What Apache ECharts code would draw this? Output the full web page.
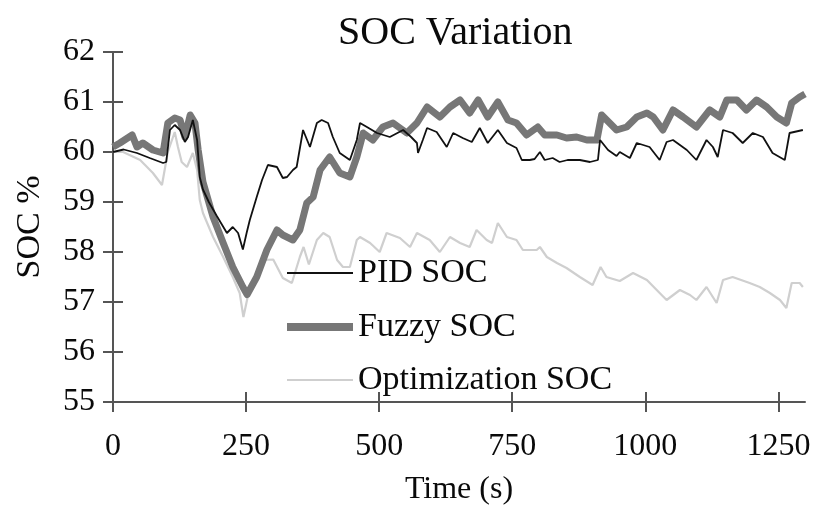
<!DOCTYPE html>
<html>
<head>
<meta charset="utf-8">
<script src="https://cdn.jsdelivr.net/npm/echarts@6/dist/echarts.min.js"></script>
<style>
  html, body { margin: 0; padding: 0; background: #fff; }
  #chart { width: 820px; height: 513px; }
</style>
</head>
<body>
<div id="chart"></div>
<script>
// Time stamps (s) and state of charge (%) for each control strategy
const pidTime = [0, 20, 45, 69, 94, 100, 107, 116, 126, 135, 141, 150, 158, 163, 169, 180, 195, 214, 225, 235, 244, 251, 257, 270, 280, 291, 308, 319, 327, 338, 345, 357, 370, 383, 392, 404, 413, 426, 445, 458, 464, 477, 496, 520, 545, 560, 571, 573, 582, 590, 608, 627, 639, 657, 674, 689, 704, 723, 740, 758, 768, 783, 792, 802, 811, 826, 839, 854, 877, 896, 911, 915, 930, 946, 952, 971, 984, 1008, 1027, 1040, 1052, 1078, 1096, 1115, 1127, 1136, 1146, 1164, 1183, 1202, 1221, 1239, 1262, 1271, 1296];
const pidSoc = [60.0, 60.05, 59.98, 59.88, 59.78, 59.8, 60.44, 60.54, 60.44, 60.2, 60.3, 60.64, 60.24, 59.5, 59.25, 59.0, 58.72, 58.38, 58.5, 58.38, 58.05, 58.38, 58.64, 59.1, 59.44, 59.74, 59.7, 59.48, 59.5, 59.64, 59.7, 60.44, 60.1, 60.58, 60.64, 60.58, 60.3, 59.98, 59.84, 60.24, 60.58, 60.5, 60.38, 60.3, 60.44, 60.3, 60.18, 59.98, 60.24, 60.48, 60.4, 60.1, 60.38, 60.28, 60.2, 60.48, 60.18, 60.44, 60.18, 60.08, 59.84, 59.84, 59.86, 60.0, 59.84, 59.88, 59.8, 59.84, 59.84, 59.8, 59.84, 60.24, 60.04, 59.92, 60.0, 59.88, 60.18, 60.1, 59.84, 60.2, 60.24, 60.04, 59.84, 60.24, 60.1, 59.9, 60.44, 60.38, 60.18, 60.38, 60.3, 59.98, 59.84, 60.38, 60.44];

const fuzzyTime = [0, 13, 36, 45, 56, 75, 94, 103, 116, 126, 135, 145, 154, 160, 169, 188, 207, 225, 244, 252, 270, 289, 308, 319, 338, 351, 364, 376, 389, 407, 426, 445, 458, 470, 488, 507, 526, 552, 571, 590, 614, 633, 652, 670, 686, 704, 723, 742, 758, 777, 798, 811, 834, 852, 871, 890, 909, 918, 933, 946, 965, 984, 1003, 1015, 1033, 1052, 1071, 1096, 1121, 1140, 1153, 1172, 1190, 1209, 1228, 1247, 1265, 1275, 1290, 1300];
const fuzzySoc = [60.1, 60.18, 60.34, 60.1, 60.18, 60.04, 59.98, 60.58, 60.68, 60.64, 60.3, 60.74, 60.58, 60.04, 59.4, 58.7, 58.18, 57.7, 57.3, 57.15, 57.5, 58.04, 58.44, 58.34, 58.24, 58.44, 58.98, 59.1, 59.64, 59.9, 59.58, 59.5, 59.9, 60.38, 60.24, 60.5, 60.58, 60.38, 60.58, 60.9, 60.7, 60.9, 61.04, 60.78, 61.04, 60.7, 61.0, 60.64, 60.58, 60.34, 60.5, 60.34, 60.34, 60.28, 60.3, 60.24, 60.24, 60.74, 60.58, 60.44, 60.5, 60.7, 60.78, 60.7, 60.44, 60.84, 60.7, 60.5, 60.84, 60.7, 61.04, 61.04, 60.84, 61.04, 60.9, 60.7, 60.58, 60.98, 61.1, 61.16];

const optTime = [0, 19, 51, 75, 92, 103, 116, 122, 129, 139, 150, 158, 163, 169, 188, 207, 225, 238, 245, 257, 282, 301, 319, 336, 351, 358, 368, 383, 395, 407, 421, 432, 445, 458, 464, 483, 501, 514, 539, 558, 571, 595, 614, 633, 652, 670, 683, 702, 712, 723, 740, 758, 770, 796, 802, 815, 834, 852, 877, 901, 916, 927, 952, 977, 1003, 1027, 1040, 1065, 1084, 1096, 1115, 1134, 1146, 1164, 1196, 1215, 1234, 1253, 1265, 1275, 1290, 1296];
const optSoc = [60.0, 60.0, 59.84, 59.58, 59.34, 60.0, 60.4, 60.1, 59.8, 59.7, 59.98, 59.64, 59.04, 58.78, 58.3, 57.9, 57.5, 57.18, 56.7, 57.3, 57.84, 57.85, 57.48, 57.38, 57.9, 58.1, 57.75, 58.24, 58.38, 58.3, 57.84, 57.7, 57.7, 58.24, 58.3, 58.18, 58.0, 58.38, 58.28, 58.1, 58.38, 58.24, 58.0, 58.3, 58.18, 58.1, 58.44, 58.24, 58.18, 58.58, 58.3, 58.24, 58.04, 58.04, 58.1, 57.9, 57.78, 57.68, 57.5, 57.34, 57.7, 57.5, 57.42, 57.58, 57.44, 57.18, 57.04, 57.24, 57.14, 57.04, 57.3, 56.98, 57.44, 57.5, 57.38, 57.3, 57.18, 57.04, 56.88, 57.38, 57.38, 57.3];

const seriesNames = ['PID SOC', 'Fuzzy SOC', 'Optimization SOC'];
const xTicks = [0, 250, 500, 750, 1000, 1250];
const yTicks = [55, 56, 57, 58, 59, 60, 61, 62];

const zip = (t, v) => t.map((x, i) => [x, v[i]]);

const FONT = "'Liberation Serif', 'Times New Roman', serif";
const INK = '#0a0a0a';
const AXIS = '#555';

const chart = echarts.init(document.getElementById('chart'), null, { renderer: 'canvas' });

// Legend entries are drawn as three stacked one-item legends so each
// swatch can carry its own line thickness.
function legendItem(name, top, thickness, color) {
  return {
    data: [name],
    left: 287,
    top: top - 17,
    padding: 0,
    orient: 'vertical',
    icon: 'rect',
    itemWidth: 66,
    itemHeight: thickness,
    itemStyle: { color: color },
    selectedMode: false,
    textStyle: { fontFamily: FONT, fontSize: 34, color: INK, lineHeight: 34, padding: [0, 0, 0, 0] }
  };
}

chart.setOption({
  backgroundColor: '#fff',
  animation: false,
  title: {
    text: 'SOC Variation',
    left: 333,
    top: 8,
    textStyle: { fontFamily: FONT, fontSize: 40, fontWeight: 'normal', color: INK }
  },
  legend: [
    legendItem(seriesNames[0], 273, 2, '#111'),
    legendItem(seriesNames[1], 327, 8, '#777'),
    legendItem(seriesNames[2], 380, 2, '#cfcfcf')
  ],
  grid: { left: 113, right: 15, top: 52, bottom: 111 },
  xAxis: [
    {
      type: 'value', min: 0, max: 1300, position: 'bottom',
      name: 'Time (s)', nameLocation: 'middle', nameGap: 72,
      nameTextStyle: { fontFamily: FONT, fontSize: 32, color: INK },
      axisLine: { show: true, lineStyle: { color: AXIS, width: 2 } },
      axisTick: { show: true, length: 10, customValues: xTicks, lineStyle: { color: AXIS, width: 2 } },
      axisLabel: {
        customValues: xTicks, margin: 29, fontFamily: FONT, fontSize: 32, color: INK,
        formatter: (v) => String(v)
      },
      splitLine: { show: false }
    },
    {
      type: 'value', min: 0, max: 1300, position: 'bottom',
      axisLine: { show: false },
      axisTick: { show: true, inside: true, length: 10, customValues: xTicks, lineStyle: { color: AXIS, width: 2 } },
      axisLabel: { show: false },
      splitLine: { show: false }
    }
  ],
  yAxis: [
    {
      type: 'value', min: 55, max: 62, interval: 1, position: 'left',
      name: 'SOC %', nameLocation: 'middle', nameGap: 66,
      nameTextStyle: { fontFamily: FONT, fontSize: 34, color: INK },
      axisLine: { show: true, lineStyle: { color: AXIS, width: 2 } },
      axisTick: { show: true, length: 10, lineStyle: { color: AXIS, width: 2 } },
      axisLabel: { customValues: yTicks, margin: 18, fontFamily: FONT, fontSize: 32, color: INK },
      splitLine: { show: false }
    },
    {
      type: 'value', min: 55, max: 62, interval: 1, position: 'left',
      axisLine: { show: false },
      axisTick: { show: true, inside: true, length: 10, lineStyle: { color: AXIS, width: 2 } },
      axisLabel: { show: false },
      splitLine: { show: false }
    }
  ],
  series: [
    {
      name: seriesNames[2], type: 'line', data: zip(optTime, optSoc),
      showSymbol: false, symbol: 'none', z: 2,
      lineStyle: { color: '#cfcfcf', width: 2.2 }
    },
    {
      name: seriesNames[1], type: 'line', data: zip(fuzzyTime, fuzzySoc),
      showSymbol: false, symbol: 'none', z: 3,
      lineStyle: { color: '#777', width: 7, join: 'round' }
    },
    {
      name: seriesNames[0], type: 'line', data: zip(pidTime, pidSoc),
      showSymbol: false, symbol: 'none', z: 4,
      lineStyle: { color: '#111', width: 1.8 }
    }
  ]
});
</script>
</body>
</html>
